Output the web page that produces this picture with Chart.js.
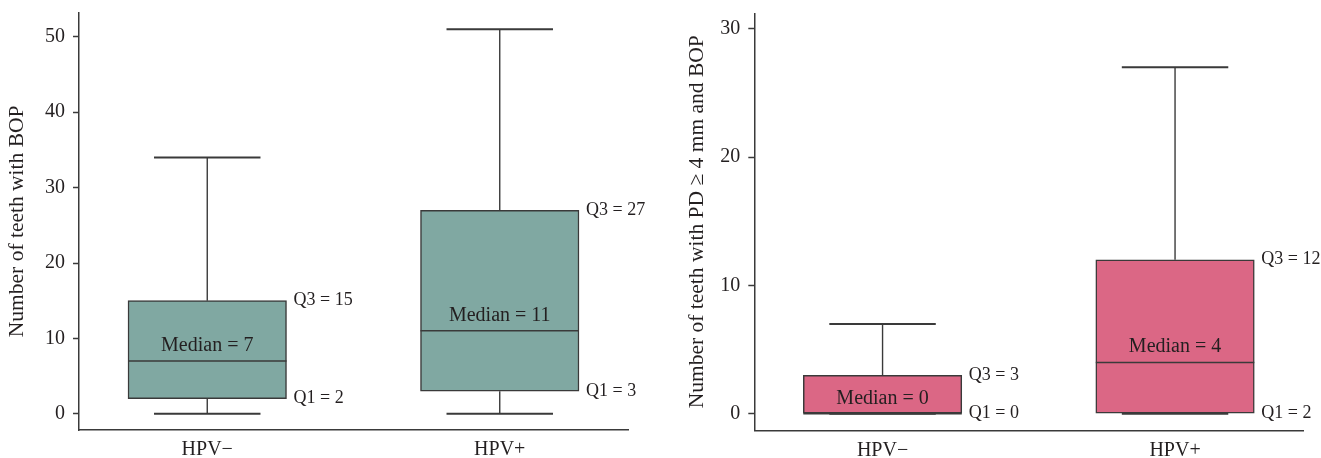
<!DOCTYPE html>
<html><head><meta charset="utf-8">
<script src="https://cdn.jsdelivr.net/npm/chart.js@4.4.1/dist/chart.umd.min.js"></script>
<style>
html,body{margin:0;padding:0;background:#fff;}
#wrap{position:relative;width:1321px;height:458px;overflow:hidden;}
#c1{position:absolute;left:0;top:0;}
#c2{position:absolute;left:660px;top:0;}
</style></head><body>
<div id="wrap"><canvas id="c1" width="660" height="458"></canvas><canvas id="c2" width="661" height="458"></canvas></div>
<script>
// ---------- data ----------
const categories = ['HPV\u2212', 'HPV+'];

// Panel A: number of teeth with BOP
const bopMin    = [0, 0];
const bopQ1     = [2, 3];
const bopMedian = [7, 11];
const bopQ3     = [15, 27];
const bopMax    = [34, 51];
const bopQ1Label = [2, 3];
const bopQ3Label = [15, 27];
const bopTicks  = [0, 10, 20, 30, 40, 50];

// Panel B: number of teeth with PD >= 4 mm and BOP
const pdMin    = [0, 0];
const pdQ1     = [0, 0];
const pdMedian = [0, 4];
const pdQ3     = [3, 12];
const pdMax    = [7, 27];
const pdQ1Label = [0, 2];
const pdQ3Label = [3, 12];
const pdTicks  = [0, 10, 20, 30];

// ---------- styling ----------
const FONT = '"Liberation Serif", "Times New Roman", "DejaVu Serif", serif';
const TEXT = '#231f20';
const LINE = '#3a3a3a';

const labelPlugin = {
  id: 'boxLabels',
  afterDatasetsDraw(chart) {
    const o = chart.options.plugins.boxLabels;
    if (!o) return;
    const {ctx, scales: {x, y}} = chart;
    const boxMeta = chart.getDatasetMeta(0);
    ctx.save();
    ctx.fillStyle = TEXT;
    for (let i = 0; i < o.median.length; i++) {
      const cx = x.getPixelForValue(i);
      const half = boxMeta.data[i].width / 2;
      ctx.font = '20px ' + FONT;
      ctx.textAlign = 'center';
      ctx.textBaseline = 'alphabetic';
      ctx.fillText('Median = ' + o.median[i], cx, y.getPixelForValue(o.median[i]) - 10);
      ctx.font = '18px ' + FONT;
      ctx.textAlign = 'left';
      ctx.textBaseline = 'middle';
      const rx = cx + half + 7;
      ctx.fillText('Q3 = ' + o.q3Label[i], rx, y.getPixelForValue(o.q3[i]));
      ctx.fillText('Q1 = ' + o.q1Label[i], rx, y.getPixelForValue(o.q1[i]));
    }
    ctx.restore();
  }
};

function makePanel(canvas, p) {
  const capHalf = 0.182, medHalf = 0.271;
  const boxes = categories.map((c, i) => ({x: i, y: [p.q1[i], p.q3[i]]}));
  const whisk = [], caps = [], meds = [];
  categories.forEach((c, i) => {
    whisk.push({x: i, y: p.min[i]}, {x: i, y: p.q1[i]}, {x: i, y: null},
               {x: i, y: p.q3[i]}, {x: i, y: p.max[i]}, {x: i, y: null});
    caps.push({x: i - capHalf, y: p.min[i]}, {x: i + capHalf, y: p.min[i]}, {x: i, y: null},
              {x: i - capHalf, y: p.max[i]}, {x: i + capHalf, y: p.max[i]}, {x: i, y: null});
    meds.push({x: i - medHalf, y: p.median[i]}, {x: i + medHalf, y: p.median[i]}, {x: i, y: null});
  });
  const lineDs = (data, w) => ({
    type: 'line', data, borderColor: LINE, borderWidth: w, pointRadius: 0,
    spanGaps: false, fill: false, order: 1, tension: 0
  });
  return new Chart(canvas, {
    type: 'bar',
    data: {
      datasets: [
        {data: boxes, backgroundColor: p.fill, borderColor: LINE, borderWidth: 1.5,
         borderSkipped: false, barThickness: 158.5, order: 2},
        lineDs(whisk, 1.4),
        lineDs(caps, 2),
        lineDs(meds, 1.5)
      ]
    },
    options: {
      responsive: false,
      animation: false,
      events: [],
      layout: {padding: p.padding},
      plugins: {
        legend: {display: false},
        tooltip: {enabled: false},
        boxLabels: {median: p.median, q1: p.q1, q3: p.q3, q1Label: p.q1Label, q3Label: p.q3Label}
      },
      scales: {
        x: {
          type: 'linear', min: -0.4385, max: 1.4385, offset: false,
          afterBuildTicks: s => { s.ticks = categories.map((c, i) => ({value: i})); },
          ticks: {callback: v => categories[v], color: TEXT, font: {family: FONT, size: 20}, padding: 0, maxRotation: 0},
          grid: {display: false, offset: false},
          border: {display: true, color: LINE, width: 1.5},
          afterFit: s => { s.height = p.xHeight; s.paddingLeft = 0; s.paddingRight = 0; }
        },
        y: {
          type: 'linear', min: p.yMin, max: p.yMax,
          afterBuildTicks: s => { s.ticks = p.ticks.map(v => ({value: v})); },
          ticks: {color: TEXT, font: {family: FONT, size: 20}, padding: 8},
          grid: {display: true, drawOnChartArea: false, drawTicks: true, tickLength: 6,
                 tickColor: LINE, tickWidth: 1.5},
          border: {display: true, color: LINE, width: 1.5},
          title: {display: true, text: p.title, color: TEXT, font: {family: FONT, size: 21.5},
                  padding: {top: p.titlePad, bottom: 0}},
          afterFit: s => { s.width = p.yWidth; s.paddingTop = 0; s.paddingBottom = 0; }
        }
      }
    },
    plugins: [labelPlugin]
  });
}

makePanel(document.getElementById('c1'), {
  min: bopMin, q1: bopQ1, median: bopMedian, q3: bopQ3, max: bopMax,
  q1Label: bopQ1Label, q3Label: bopQ3Label, ticks: bopTicks,
  fill: '#80a8a2', yMin: -2.15, yMax: 53.2,
  title: 'Number of teeth with BOP',
  padding: {top: 12.7, right: 32, bottom: 0, left: 0},
  xHeight: 28, yWidth: 79, titlePad: 4
});

makePanel(document.getElementById('c2'), {
  min: pdMin, q1: pdQ1, median: pdMedian, q3: pdQ3, max: pdMax,
  q1Label: pdQ1Label, q3Label: pdQ3Label, ticks: pdTicks,
  fill: '#db6785', yMin: -1.29, yMax: 31.2,
  title: 'Number of teeth with PD \u2265 4 mm and BOP',
  padding: {top: 13.3, right: 17.7, bottom: 0, left: 0},
  xHeight: 27.7, yWidth: 94.3, titlePad: 24.4
});
</script>
</body></html>
